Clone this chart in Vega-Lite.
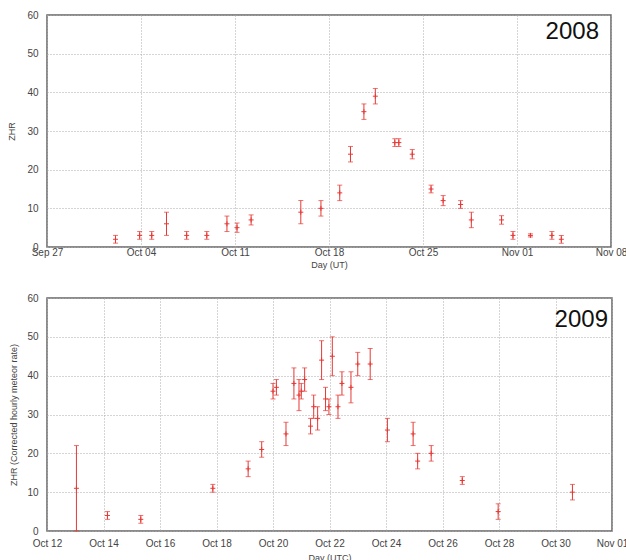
{
  "$schema": "https://vega.github.io/schema/vega-lite/v6.json",
  "padding": {"left": 7, "top": 9, "right": 5, "bottom": 0},
  "spacing": 22,
  "config": {
    "font": "Liberation Sans",
    "view": {"stroke": "#666", "strokeWidth": 1.5},
    "title": {"font": "Liberation Sans", "fontSize": 24, "fontWeight": "normal", "color": "#111", "anchor": "end", "frame": "group", "baseline": "alphabetic"},
    "axis": {
      "labelFont": "Liberation Sans", "titleFont": "Liberation Sans",
      "labelFontSize": 10, "titleFontSize": 9, "labelColor": "#444", "titleColor": "#444",
      "titleFontWeight": "normal", "domain": false, "ticks": false,
      "gridColor": "#aaa", "gridDash": [1, 2], "gridWidth": 1, "labelFlush": false
    }
  },
  "vconcat": [
    {
      "width": 564, "height": 232,
      "title": {"text": "2008", "offset": -34, "dx": -12},
      "data": {"values": [
        {"t": "2008-10-02T02:24:00Z", "zhr": 2, "err": 1},
        {"t": "2008-10-03T21:36:00Z", "zhr": 3, "err": 1},
        {"t": "2008-10-04T19:12:00Z", "zhr": 3, "err": 1},
        {"t": "2008-10-05T21:36:00Z", "zhr": 6, "err": 3},
        {"t": "2008-10-07T09:36:00Z", "zhr": 3, "err": 1},
        {"t": "2008-10-08T21:36:00Z", "zhr": 3, "err": 1},
        {"t": "2008-10-10T09:36:00Z", "zhr": 6, "err": 2},
        {"t": "2008-10-11T03:36:00Z", "zhr": 5, "err": 1.2},
        {"t": "2008-10-12T04:48:00Z", "zhr": 7, "err": 1.3},
        {"t": "2008-10-15T21:36:00Z", "zhr": 9, "err": 3},
        {"t": "2008-10-17T09:36:00Z", "zhr": 10, "err": 2},
        {"t": "2008-10-18T19:12:00Z", "zhr": 14, "err": 2},
        {"t": "2008-10-19T14:24:00Z", "zhr": 24, "err": 2},
        {"t": "2008-10-20T14:24:00Z", "zhr": 35, "err": 2},
        {"t": "2008-10-21T10:48:00Z", "zhr": 39, "err": 2},
        {"t": "2008-10-22T21:36:00Z", "zhr": 27, "err": 1},
        {"t": "2008-10-23T04:48:00Z", "zhr": 27, "err": 1},
        {"t": "2008-10-24T04:48:00Z", "zhr": 24, "err": 1.2},
        {"t": "2008-10-25T14:24:00Z", "zhr": 15, "err": 1},
        {"t": "2008-10-26T12:00:00Z", "zhr": 12, "err": 1.3},
        {"t": "2008-10-27T19:12:00Z", "zhr": 11, "err": 1},
        {"t": "2008-10-28T14:24:00Z", "zhr": 7, "err": 2},
        {"t": "2008-10-30T20:24:00Z", "zhr": 7, "err": 1.1},
        {"t": "2008-10-31T16:48:00Z", "zhr": 3, "err": 1},
        {"t": "2008-11-02T00:00:00Z", "zhr": 3, "err": 0.4},
        {"t": "2008-11-03T14:24:00Z", "zhr": 3, "err": 1},
        {"t": "2008-11-04T07:12:00Z", "zhr": 2, "err": 1}
      ]},
      "encoding": {
        "x": {"field": "t", "type": "temporal",
          "scale": {"type": "utc", "domain": [{"year": 2008, "month": 9, "date": 27, "utc": true}, {"year": 2008, "month": 11, "date": 8, "utc": true}]},
          "axis": {"grid": true, "format": "%b %d", "title": "Day (UT)", "labelPadding": 0, "titlePadding": 3,
            "values": [
              {"year": 2008, "month": 9, "date": 27, "utc": true},
              {"year": 2008, "month": 10, "date": 4, "utc": true},
              {"year": 2008, "month": 10, "date": 11, "utc": true},
              {"year": 2008, "month": 10, "date": 18, "utc": true},
              {"year": 2008, "month": 10, "date": 25, "utc": true},
              {"year": 2008, "month": 11, "date": 1, "utc": true},
              {"year": 2008, "month": 11, "date": 8, "utc": true}
            ]}},
        "y": {"field": "zhr", "type": "quantitative", "scale": {"domain": [0, 60], "nice": false},
          "axis": {"values": [0, 10, 20, 30, 40, 50, 60], "grid": true, "title": "ZHR", "labelPadding": 9, "titlePadding": 10}}
      },
      "layer": [
        {
          "mark": {"type": "errorbar", "rule": {"color": "#e53935"}, "ticks": {"color": "#e53935", "size": 5}},
          "encoding": {"yError": {"field": "err"}}
        },
        {
          "mark": {"type": "point", "shape": "M-1,0H1M0,-1V1", "size": 25, "filled": false, "strokeWidth": 1, "color": "#e53935", "opacity": 1}
        }
      ]
    },
    {
      "width": 565, "height": 233,
      "title": {"text": "2009", "offset": -39, "dx": -4},
      "data": {"values": [
        {"t": "2009-10-13T01:00:00Z", "zhr": 11, "err": 11},
        {"t": "2009-10-14T03:22:00Z", "zhr": 4, "err": 1},
        {"t": "2009-10-15T07:41:00Z", "zhr": 3, "err": 1},
        {"t": "2009-10-17T20:53:00Z", "zhr": 11, "err": 1},
        {"t": "2009-10-19T02:53:00Z", "zhr": 16, "err": 2},
        {"t": "2009-10-19T14:24:00Z", "zhr": 21, "err": 2},
        {"t": "2009-10-20T00:00:00Z", "zhr": 36, "err": 2},
        {"t": "2009-10-20T02:53:00Z", "zhr": 37, "err": 2},
        {"t": "2009-10-20T11:02:00Z", "zhr": 25, "err": 3},
        {"t": "2009-10-20T17:46:00Z", "zhr": 38, "err": 4},
        {"t": "2009-10-20T22:05:00Z", "zhr": 35, "err": 4},
        {"t": "2009-10-21T00:00:00Z", "zhr": 36, "err": 2},
        {"t": "2009-10-21T02:53:00Z", "zhr": 39, "err": 3},
        {"t": "2009-10-21T07:55:00Z", "zhr": 27, "err": 2},
        {"t": "2009-10-21T10:34:00Z", "zhr": 32, "err": 3},
        {"t": "2009-10-21T13:55:00Z", "zhr": 29, "err": 3},
        {"t": "2009-10-21T17:17:00Z", "zhr": 44, "err": 5},
        {"t": "2009-10-21T20:38:00Z", "zhr": 34, "err": 3},
        {"t": "2009-10-21T23:31:00Z", "zhr": 32, "err": 2},
        {"t": "2009-10-22T02:24:00Z", "zhr": 45, "err": 5},
        {"t": "2009-10-22T07:12:00Z", "zhr": 32, "err": 3},
        {"t": "2009-10-22T10:34:00Z", "zhr": 38, "err": 3},
        {"t": "2009-10-22T18:14:00Z", "zhr": 37, "err": 4},
        {"t": "2009-10-23T00:00:00Z", "zhr": 43, "err": 3},
        {"t": "2009-10-23T10:34:00Z", "zhr": 43, "err": 4},
        {"t": "2009-10-24T01:12:00Z", "zhr": 26, "err": 3},
        {"t": "2009-10-24T23:02:00Z", "zhr": 25, "err": 3},
        {"t": "2009-10-25T02:53:00Z", "zhr": 18, "err": 2},
        {"t": "2009-10-25T14:24:00Z", "zhr": 20, "err": 2},
        {"t": "2009-10-26T16:48:00Z", "zhr": 13, "err": 1},
        {"t": "2009-10-27T23:17:00Z", "zhr": 5, "err": 2},
        {"t": "2009-10-30T14:24:00Z", "zhr": 10, "err": 2}
      ]},
      "encoding": {
        "x": {"field": "t", "type": "temporal",
          "scale": {"type": "utc", "domain": [{"year": 2009, "month": 10, "date": 12, "utc": true}, {"year": 2009, "month": 11, "date": 1, "utc": true}]},
          "axis": {"grid": true, "format": "%b %d", "title": "Day (UTC)", "labelPadding": 7, "titlePadding": 5,
            "values": [
              {"year": 2009, "month": 10, "date": 12, "utc": true},
              {"year": 2009, "month": 10, "date": 14, "utc": true},
              {"year": 2009, "month": 10, "date": 16, "utc": true},
              {"year": 2009, "month": 10, "date": 18, "utc": true},
              {"year": 2009, "month": 10, "date": 20, "utc": true},
              {"year": 2009, "month": 10, "date": 22, "utc": true},
              {"year": 2009, "month": 10, "date": 24, "utc": true},
              {"year": 2009, "month": 10, "date": 26, "utc": true},
              {"year": 2009, "month": 10, "date": 28, "utc": true},
              {"year": 2009, "month": 10, "date": 30, "utc": true},
              {"year": 2009, "month": 11, "date": 1, "utc": true}
            ]}},
        "y": {"field": "zhr", "type": "quantitative", "scale": {"domain": [0, 60], "nice": false},
          "axis": {"values": [0, 10, 20, 30, 40, 50, 60], "grid": true, "title": "ZHR (Corrected hourly meteor rate)", "labelPadding": 9, "titlePadding": 8}}
      },
      "layer": [
        {
          "mark": {"type": "errorbar", "rule": {"color": "#e53935"}, "ticks": {"color": "#e53935", "size": 5}},
          "encoding": {"yError": {"field": "err"}}
        },
        {
          "mark": {"type": "point", "shape": "M-1,0H1M0,-1V1", "size": 25, "filled": false, "strokeWidth": 1, "color": "#e53935", "opacity": 1}
        }
      ]
    }
  ]
}
